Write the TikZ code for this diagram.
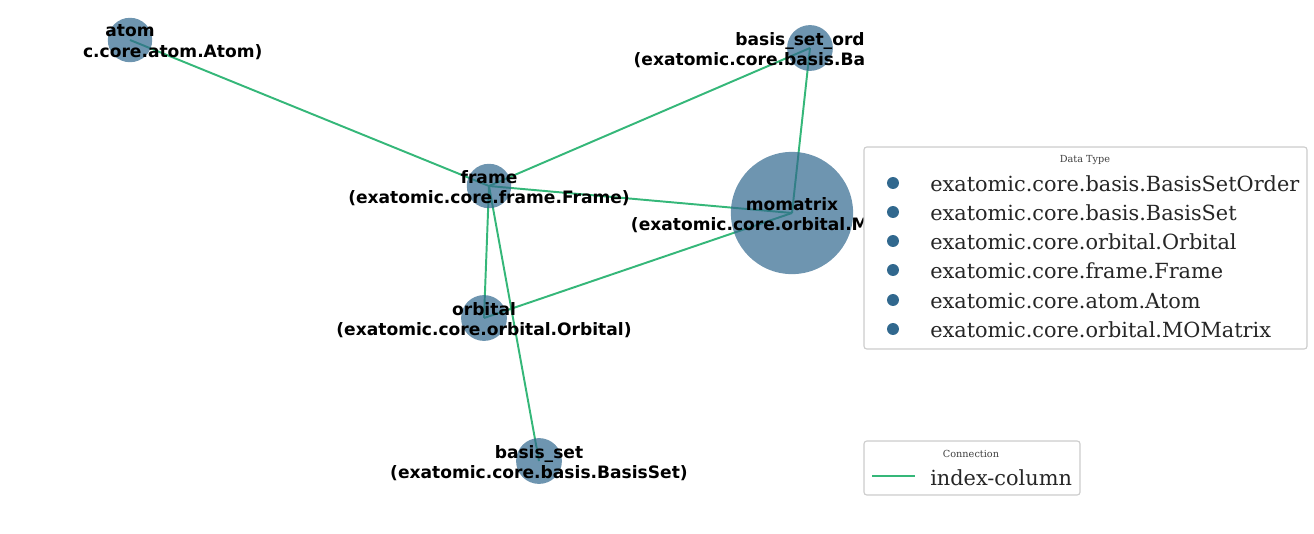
\documentclass[tikz,border=0pt]{standalone}
\usepackage{fontspec}
\newfontfamily\labelfont{DejaVu Sans}
\newfontfamily\legendfont{DejaVu Serif}
\definecolor{nodeblue}{HTML}{31688E}
\definecolor{linkgreen}{HTML}{35B779}
\definecolor{framegray}{HTML}{CCCCCC}
\usetikzlibrary{positioning}
\pgfdeclarelayer{background}
\pgfsetlayers{background,main}
\tikzset{
  vertex/.style={circle, fill=nodeblue, fill opacity=0.7, inner sep=0pt},
  vlabel/.style={align=center, inner sep=0pt, yshift=-1.5pt, font=\labelfont\bfseries\fontsize{12.3}{15}\selectfont},
  link/.style={linkgreen, line width=1.4pt},
  legbox/.style={draw=framegray, fill=white, rounded corners=2pt, line width=0.8pt},
  legtitle/.style={font=\legendfont\fontsize{7}{8}\selectfont, text=black!75},
  legitem/.style={anchor=west, inner sep=0pt, font=\legendfont\fontsize{15}{17}\selectfont, text=black!85},
  legdot/.style={circle, fill=nodeblue, minimum size=8.6pt, inner sep=0pt}
}
\begin{document}
\begin{tikzpicture}[x=0.72pt, y=-0.72pt]
    \useasboundingbox (0,0) rectangle (1314,533);

    % Nodos
    \node[vertex, minimum size=32pt] (atom) at (130,40) {};
    \node[vertex, minimum size=33pt] (bso) at (810,48) {};
    \node[vertex, minimum size=32pt] (frame) at (489,186) {};
    \node[vertex, minimum size=88pt] (momatrix) at (792,213) {};
    \node[vertex, minimum size=33pt] (orbital) at (484,318) {};
    \node[vertex, minimum size=33pt] (basisset) at (539,461) {};

    % Conexiones
    \begin{pgfonlayer}{background}
        \draw[link] (atom.center) -- (frame.center);
        \draw[link] (frame.center) -- (bso.center);
        \draw[link] (frame.center) -- (momatrix.center);
        \draw[link] (frame.center) -- (orbital.center);
        \draw[link] (frame.center) -- (basisset.center);
        \draw[link] (orbital.center) -- (momatrix.center);
        \draw[link] (bso.center) -- (momatrix.center);
    \end{pgfonlayer}

    % Etiquetas
    \begin{scope}
        \clip (83,0) rectangle (864,533);
        \node[vlabel] (atomlbl) at (atom) {atom\\(exatomic.core.atom.Atom)};
        \node[vlabel] (bsolbl) at (bso) {basis\_set\_order\\(exatomic.core.basis.BasisSetOrder)};
        \node[vlabel] (framelbl) at (frame) {frame\\(exatomic.core.frame.Frame)};
        \node[vlabel] (momatrixlbl) at (momatrix) {momatrix\\(exatomic.core.orbital.MOMatrix)};
        \node[vlabel] (orbitallbl) at (orbital) {orbital\\(exatomic.core.orbital.Orbital)};
        \node[vlabel] (basissetlbl) at (basisset) {basis\_set\\(exatomic.core.basis.BasisSet)};
    \end{scope}

    % Leyenda: tipo de dato
    \draw[legbox] (864,147) rectangle (1307,349);
    \node[legtitle] (typetitle) at (1085,160) {Data Type};
    \node[legdot] (dot1) at (893,183) {};
    \node[legdot] (dot2) at (893,212) {};
    \node[legdot] (dot3) at (893,241) {};
    \node[legdot] (dot4) at (893,270) {};
    \node[legdot] (dot5) at (893,300) {};
    \node[legdot] (dot6) at (893,329) {};
    \node[legitem] (item1) at (930,184) {exatomic.core.basis.BasisSetOrder};
    \node[legitem] (item2) at (930,213) {exatomic.core.basis.BasisSet};
    \node[legitem] (item3) at (930,242) {exatomic.core.orbital.Orbital};
    \node[legitem] (item4) at (930,271) {exatomic.core.frame.Frame};
    \node[legitem] (item5) at (930,301) {exatomic.core.atom.Atom};
    \node[legitem] (item6) at (930,330) {exatomic.core.orbital.MOMatrix};

    % Leyenda: conexion
    \draw[legbox] (864,441) rectangle (1080,495);
    \node[legtitle] (conntitle) at (971,454) {Connection};
    \coordinate (linea) at (872,476);
    \coordinate (lineb) at (915,476);
    \draw[linkgreen, line width=2pt] (linea) -- (lineb);
    \node[legitem] (item7) at (930,478) {index-column};
\end{tikzpicture}
\end{document}
